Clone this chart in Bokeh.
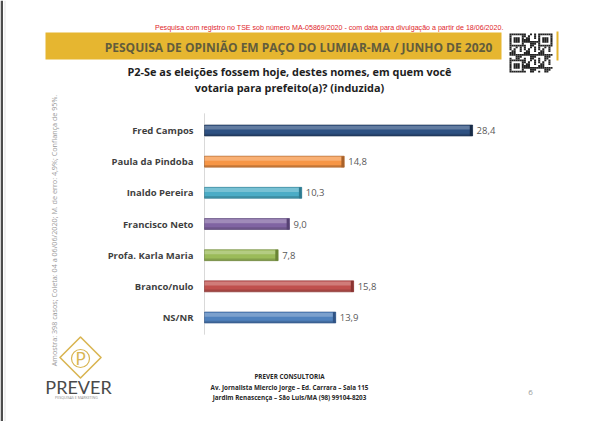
import math
from bokeh.plotting import figure
from bokeh.models import Range1d, ColumnDataSource
from bokeh.core.properties import value
from bokeh.embed import file_html
from bokeh.resources import INLINE

# ---------------- data ----------------
categories = ["Fred Campos", "Paula da Pindoba", "Inaldo Pereira", "Francisco Neto",
              "Profa. Karla Maria", "Branco/nulo", "NS/NR"]
values = [28.4, 14.8, 10.3, 9.0, 7.8, 15.8, 13.9]
bar_colors = ["#2E5182", "#F79646", "#4BACC6", "#8064A2", "#9BBB59", "#C0504D", "#4F81BD"]
cap_colors = ["#182B47", "#A9622A", "#2D7A90", "#564173", "#6A8535", "#8A3331", "#2F5385"]

title = "PESQUISA DE OPINIÃO EM PAÇO DO LUMIAR-MA / JUNHO DE 2020"
subtitle = ["P2-Se as eleições fossem hoje, destes nomes, em quem você",
            "votaria para prefeito(a)? (induzida)"]
note_top = ("Pesquisa com registro no TSE sob número MA-05869/2020 - com data para "
            "divulgação a partir de 18/06/2020.")
note_side = ("Amostra: 398 casos; Coleta: 04 a 06/06/2020; M. de erro: 4,9%; "
             "Confiança de 95%.")
footer = ["PREVER CONSULTORIA",
          "Av. Jornalista Miercio Jorge – Ed. Carrara – Sala 115",
          "Jardim Renascença – São Luis/MA (98) 99104-8203"]

# ---------------- layout ----------------
W, H = 600, 421
AXIS_X = 204            # canvas px of value 0
PX_PER_UNIT = 9.44
TOP_Y = 130             # canvas px (from top) of first category
STEP = 31.17

x_range = Range1d(-AXIS_X / PX_PER_UNIT, (W - AXIS_X) / PX_PER_UNIT)
y_range = Range1d((H - TOP_Y) / STEP, -TOP_Y / STEP)   # inverted: index grows downward

p = figure(width=W, height=H, output_backend="svg", toolbar_location=None,
           x_range=x_range, y_range=y_range, x_axis_type=None, y_axis_type=None,
           min_border=0, min_border_left=0, min_border_right=0,
           min_border_top=0, min_border_bottom=0)
p.grid.visible = False
p.outline_line_color = None
p.background_fill_color = "white"
p.border_fill_color = "white"

# page-pixel coordinate system for decorations
p.extra_x_ranges = {"page": Range1d(0, W)}
p.extra_y_ranges = {"page": Range1d(H, 0)}
PG = dict(x_range_name="page", y_range_name="page")

# left page edge
p.quad(left=[0], right=[2.5], top=[0], bottom=[H], fill_color="#4D4D4D", line_color=None, **PG)
p.quad(left=[4], right=[5], top=[0], bottom=[H], fill_color="#E4E4E4", line_color=None, **PG)

# ---------------- header ----------------
p.text(x=[503], y=[27], text=[note_top], text_align="right", text_baseline="middle",
       text_font=value("Liberation Sans"), text_font_size="7.1px", text_color="#E0262B", **PG)
p.quad(left=[45], right=[501], top=[32], bottom=[59], fill_color="#E6B630",
       line_color=None, **PG)
p.text(x=[298], y=[46.5], text=[title], text_align="center", text_baseline="middle",
       text_font=value("Open Sans"), text_font_style="bold", text_font_size="12px",
       text_color="#625C3C", **PG)
p.quad(left=[556], right=[558], top=[31], bottom=[60], fill_color="#E6B630",
       line_color=None, **PG)

# QR-like decoration
qx, qy, n = [], [], 21
mod_w, mod_h = 43 / n, 39 / n
def finder(i, j):
    for (ci, cj) in [(0, 0), (0, n - 7), (n - 7, 0)]:
        a, b = i - ci, j - cj
        if 0 <= a < 7 and 0 <= b < 7:
            return 1 if (a in (0, 6) or b in (0, 6) or (2 <= a <= 4 and 2 <= b <= 4)) else 0
    return None
for i in range(n):
    for j in range(n):
        f = finder(i, j)
        on = f if f is not None else ((i * i + 3 * j + i * j) % 7 < 3)
        if on:
            qx.append(509 + (j + 0.5) * mod_w)
            qy.append(33 + (i + 0.5) * mod_h)
p.rect(x=qx, y=qy, width=mod_w, height=mod_h, fill_color="#222222", line_color=None, **PG)

for k, line in enumerate(subtitle):
    p.text(x=[289], y=[71 + 16 * k], text=[line], text_align="center", text_baseline="middle",
           text_font=value("Open Sans"), text_font_style="bold", text_font_size="10.9px",
           text_color="#1E1E1E", **PG)

# side note (rotated)
p.text(x=[53], y=[230], text=[note_side], angle=math.pi / 2, text_align="center",
       text_baseline="middle", text_font=value("Open Sans"), text_font_size="7.2px",
       text_color="#9A9A9A", **PG)

# ---------------- bars ----------------
pos = list(range(len(categories)))
src = ColumnDataSource(dict(
    y=pos, v=values, c=bar_colors, cap=cap_colors, cat=categories,
    lbl=[f"{v:.1f}".replace(".", ",") for v in values],
    cap_left=[v - 0.3 for v in values],
    hi_y=[y - 0.09 for y in pos],
    lo_y=[y + 0.14 for y in pos],
))
BAR_H = 11 / STEP
p.segment(x0=[0], x1=[0], y0=[-0.55], y1=[len(categories) - 0.45], line_color="#D9D9D9",
          line_width=1)
p.hbar(y="y", left=0, right="v", height=BAR_H, fill_color="c", line_color="cap",
       line_width=0.6, source=src)
p.hbar(y="hi_y", left=0, right="v", height=BAR_H * 0.35, fill_color="white",
       fill_alpha=0.25, line_color=None, source=src)
p.hbar(y="lo_y", left=0, right="v", height=BAR_H * 0.2, fill_color="black",
       fill_alpha=0.15, line_color=None, source=src)
p.hbar(y="y", left="cap_left", right="v", height=BAR_H, fill_color="cap",
       line_color=None, source=src)

p.text(x=0, y="y", text="cat", source=src, x_offset=-11, text_align="right",
       text_baseline="middle", text_font=value("Open Sans"), text_font_style="bold",
       text_font_size="9.5px", text_color="#3F3F3F")
p.text(x="v", y="y", text="lbl", source=src, x_offset=4, text_align="left",
       text_baseline="middle", text_font=value("Open Sans"), text_font_size="9.5px",
       text_color="#595959")

# ---------------- footer ----------------
# logo
p.rect(x=[80], y=[357], width=[29], height=[29], angle=math.pi / 4, fill_color=None,
       line_color="#D9B552", line_width=1.6, line_join="round", **PG)
p.ellipse(x=[80], y=[358], width=[18], height=[18], fill_color=None,
          line_color="#D9B552", line_width=1.2, **PG)
p.text(x=[80], y=[358], text=["P"], text_align="center", text_baseline="middle",
       text_font=value("Lato"), text_font_size="17px", text_color="#D9B552", **PG)
p.text(x=[78], y=[386], text=["PREVER"], text_align="center", text_baseline="middle",
       text_font=value("Lato"), text_font_size="18px", text_color="#4A4A4A", **PG)
p.text(x=[76], y=[397], text=["PESQUISAS E MARKETING"], text_align="center",
       text_baseline="middle", text_font=value("Open Sans"), text_font_size="3.6px",
       text_color="#8A8A8A", **PG)

for k, line in enumerate(footer):
    p.text(x=[289], y=[376 + 10.5 * k], text=[line], text_align="center",
           text_baseline="middle", text_font=value("Open Sans"), text_font_style="bold",
           text_font_size="6.3px", text_color="#262626", **PG)
p.text(x=[530], y=[392], text=["6"], text_align="center", text_baseline="middle",
       text_font=value("Open Sans"), text_font_size="8px", text_color="#9A9A9A", **PG)

open("out.html", "w").write(file_html(p, INLINE))
